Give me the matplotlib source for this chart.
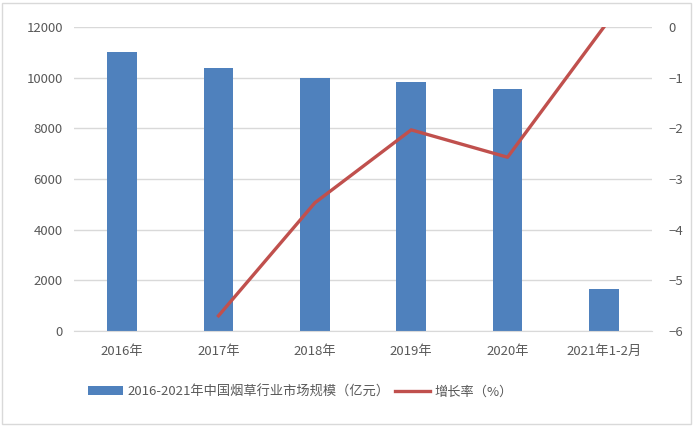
import matplotlib.pyplot as plt
import numpy as np
from matplotlib.patches import Rectangle

plt.rcParams['font.family'] = ['Noto Sans CJK SC', 'DejaVu Sans']

# data
categories = ['2016年', '2017年', '2018年', '2019年', '2020年', '2021年1-2月']
market_size = [11000, 10400, 10000, 9830, 9550, 1650]
growth_cats = [1, 2, 3, 4, 5]
growth_rate = [-5.7, -3.47, -2.03, -2.57, 0.0]

bar_label = '2016-2021年中国烟草行业市场规模（亿元）'
line_label = '增长率（%）'

fig = plt.figure(figsize=(6.94, 4.26), dpi=100)
fig.patches.append(Rectangle((0.003, 0.004), 0.993, 0.99, transform=fig.transFigure,
                             fill=False, edgecolor='#d9d9d9', linewidth=1))
ax = fig.add_axes([0.1066, 0.223, 0.833, 0.7136])
x = np.arange(len(categories))
bars = ax.bar(x, market_size, width=0.31, color='#4F81BD', zorder=2, label=bar_label)
ax.set_ylim(0, 12000)
ax.set_yticks(np.arange(0, 12001, 2000))
ax.set_xlim(-0.5, len(categories) - 0.5)
ax.set_xticks(x)
ax.set_xticklabels(categories)
ax.grid(axis='y', color='#d9d9d9', linewidth=1, zorder=0)
for s in ax.spines.values():
    s.set_visible(False)
ax.spines['bottom'].set_visible(True)
ax.spines['bottom'].set_color('#d9d9d9')
ax.tick_params(axis='both', length=0, labelsize=9.5, colors='#595959', pad=8)
ax.tick_params(axis='x', pad=10)

ax2 = ax.twinx()
line, = ax2.plot(growth_cats, growth_rate, color='#C0504D', linewidth=2.4, zorder=3, label=line_label)
ax2.set_ylim(-6, 0)
ax2.set_yticks(np.arange(-6, 1, 1))
for s in ax2.spines.values():
    s.set_visible(False)
ax2.tick_params(axis='y', length=0, labelsize=9.5, colors='#595959', pad=12)

fig.legend([bars, line], [bar_label, line_label], loc='center left', bbox_to_anchor=(0.11, 0.08),
           ncol=2, frameon=False, fontsize=9.5, labelcolor='#595959',
           handlelength=2.6, handletextpad=0.4, columnspacing=0.4)

fig.savefig('out.png', dpi=100)
